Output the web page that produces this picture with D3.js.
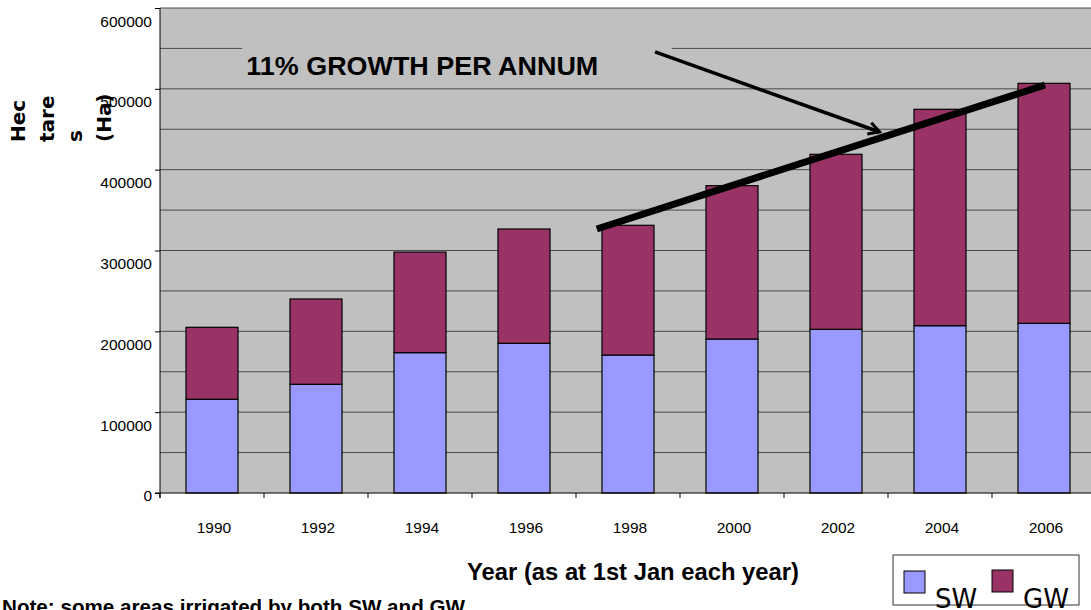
<!DOCTYPE html>
<html>
<head>
<meta charset="utf-8">
<script src="https://d3js.org/d3.v7.min.js"></script>
<style>
    html, body { margin: 0; padding: 0; background: #fff; }
    svg { display: block; }
</style>
</head>
<body>
<div id="chart"></div>
<script>
const years = ['1990', '1992', '1994', '1996', '1998', '2000', '2002', '2004', '2006'];
const swValues = [116000, 134500, 173600, 185200, 170700, 190500, 202500, 207000, 209900];
const gwValues = [89000, 105500, 124400, 141400, 160500, 189700, 216500, 267700, 296900];
const yTicks = [0, 100000, 200000, 300000, 400000, 500000, 600000];
const seriesNames = ['SW', 'GW'];
const seriesColors = ['#9999ff', '#993366'];

// annotation anchors in (category index, value) units
const trendLine = [{i: 4.20, v: 326600}, {i: 8.51, v: 504700}];
const arrowLine = [{i: 4.76, v: 545600}, {i: 6.92, v: 446600}];
const growthLabel = {text: '11% GROWTH PER ANNUM', i: 0.83, v: 517100};

class StackedChart {
    constructor(el){
        this.width = 1091;
        this.height = 610;
        this.plot = {left: 160, top: 8, right: 1096, bottom: 493};
        this.$svg = d3.select(el).append('svg')
            .attr('width', this.width)
            .attr('height', this.height);
        this.scales = {
            x: d3.scaleBand().domain(years).range([this.plot.left, this.plot.right])
                .paddingInner(0.5).paddingOuter(0.25),
            xi: d3.scaleLinear().domain([0, years.length]).range([this.plot.left, this.plot.right]),
            y: d3.scaleLinear().domain([0, 600000]).range([this.plot.bottom, this.plot.top])
        };
        this.draw();
    }

    draw(){
        let p = this.plot, x = this.scales.x, y = this.scales.y, xi = this.scales.xi;
        let g = this.$svg.append('g');

        g.append('rect')
            .attr('x', p.left).attr('y', p.top)
            .attr('width', p.right - p.left).attr('height', p.bottom - p.top)
            .attr('fill', '#c0c0c0');

        g.append('g').selectAll('line')
            .data(d3.range(50000, 600001, 50000))
            .join('line')
            .attr('x1', p.left).attr('x2', p.right)
            .attr('y1', d => y(d)).attr('y2', d => y(d))
            .attr('stroke', '#4a4a4a').attr('stroke-width', 1);

        // label box hides the gridline behind the annotation text
        g.append('rect')
            .attr('x', xi(0.79)).attr('y', y(555000))
            .attr('width', xi(4.92) - xi(0.79)).attr('height', y(506000) - y(555000))
            .attr('fill', '#c0c0c0');

        let stacked = d3.stack().keys([0, 1])(years.map((yr, k) => [swValues[k], gwValues[k]]));
        stacked.forEach((layer, s) => {
            g.append('g').selectAll('rect')
                .data(layer)
                .join('rect')
                .attr('x', (d, k) => x(years[k]))
                .attr('width', x.bandwidth())
                .attr('y', d => y(d[1]))
                .attr('height', d => y(d[0]) - y(d[1]))
                .attr('fill', seriesColors[s])
                .attr('stroke', '#000').attr('stroke-width', 1.2);
        });

        let yAxis = d3.axisLeft(y).tickValues(yTicks).tickSize(5).tickFormat(d3.format('d'));
        let ya = g.append('g').attr('transform', `translate(${p.left},0)`).call(yAxis);
        ya.select('.domain').attr('stroke', '#000').attr('d', `M0,${p.top}V${p.bottom + 5}`);
        ya.selectAll('.tick line').attr('stroke', '#000');
        ya.selectAll('.tick text')
            .attr('x', -8).attr('dy', null)
            .attr('y', d => d === 0 ? 7 : 18)
            .attr('font-family', '"Liberation Sans", Arial, sans-serif')
            .attr('font-size', '15.5px').attr('fill', '#000');

        let xa = g.append('g').attr('transform', `translate(0,${p.bottom})`);
        xa.append('line').attr('x1', p.left - 5).attr('x2', p.right)
            .attr('stroke', '#000');
        xa.selectAll('.xt').data(d3.range(0, years.length + 1))
            .join('line').attr('class', 'xt')
            .attr('x1', d => xi(d)).attr('x2', d => xi(d))
            .attr('y1', 0).attr('y2', 5).attr('stroke', '#000');
        xa.selectAll('text').data(years)
            .join('text')
            .attr('x', d => x(d) + x.bandwidth() / 2 + 2)
            .attr('y', 40)
            .attr('text-anchor', 'middle')
            .attr('font-family', '"Liberation Sans", Arial, sans-serif')
            .attr('font-size', '15.5px')
            .text(d => d);

        let line = d3.line().x(d => xi(d.i)).y(d => y(d.v));
        g.append('path').attr('d', line(trendLine))
            .attr('stroke', '#000').attr('stroke-width', 7).attr('fill', 'none');

        this.$svg.append('defs').append('marker')
            .attr('id', 'head')
            .attr('markerUnits', 'userSpaceOnUse')
            .attr('viewBox', '-14 -10 16 20')
            .attr('markerWidth', 16).attr('markerHeight', 20)
            .attr('refX', 0).attr('refY', 0)
            .attr('orient', 'auto')
            .append('path').attr('d', 'M-11,-6L0,0L-11,6')
            .attr('fill', 'none').attr('stroke', '#000').attr('stroke-width', 3);
        g.append('path').attr('d', line(arrowLine))
            .attr('stroke', '#000').attr('stroke-width', 3.5).attr('fill', 'none')
            .attr('marker-end', 'url(#head)');

        g.append('text')
            .attr('x', xi(growthLabel.i)).attr('y', y(growthLabel.v))
            .attr('font-family', '"Liberation Sans", Arial, sans-serif')
            .attr('font-weight', 'bold').attr('font-size', '26px')
            .attr('textLength', 352).attr('lengthAdjust', 'spacingAndGlyphs')
            .text(growthLabel.text);

        let titleFont = '"DejaVu Sans", Verdana, sans-serif';
        ['Hec', 'tare', 's', '(Ha)'].forEach((t, k) => {
            g.append('text')
                .attr('transform', `translate(${25 + k * 28.5},142) rotate(-90)`)
                .attr('font-family', titleFont).attr('font-weight', 'bold')
                .attr('font-size', '20px')
                .text(t);
        });

        g.append('text')
            .attr('x', 633).attr('y', 580)
            .attr('text-anchor', 'middle')
            .attr('font-family', '"Liberation Sans", Arial, sans-serif')
            .attr('font-weight', 'bold').attr('font-size', '23.5px')
            .attr('textLength', 332).attr('lengthAdjust', 'spacingAndGlyphs')
            .text('Year (as at 1st Jan each year)');

        g.append('text')
            .attr('x', 2).attr('y', 614)
            .attr('font-family', '"Liberation Sans", Arial, sans-serif')
            .attr('font-weight', 'bold').attr('font-size', '20.5px')
            .attr('textLength', 463).attr('lengthAdjust', 'spacingAndGlyphs')
            .text('Note: some areas irrigated by both SW and GW');

        this.drawLegend(g);
    }

    drawLegend(g){
        let lg = g.append('g').attr('transform', 'translate(893,555)');
        lg.append('rect').attr('width', 186).attr('height', 50)
            .attr('fill', '#fff').attr('stroke', '#333').attr('stroke-width', 1);
        seriesNames.forEach((name, k) => {
            let ox = 11 + k * 88;
            lg.append('rect').attr('x', ox).attr('y', 16 - k)
                .attr('width', 21).attr('height', 22)
                .attr('fill', seriesColors[k]).attr('stroke', '#000').attr('stroke-width', 1);
            lg.append('text').attr('x', ox + 31).attr('y', 53)
                .attr('font-family', '"DejaVu Sans", Verdana, sans-serif')
                .attr('font-size', '26px')
                .text(name);
        });
    }
}

new StackedChart('#chart');
</script>
</body>
</html>
